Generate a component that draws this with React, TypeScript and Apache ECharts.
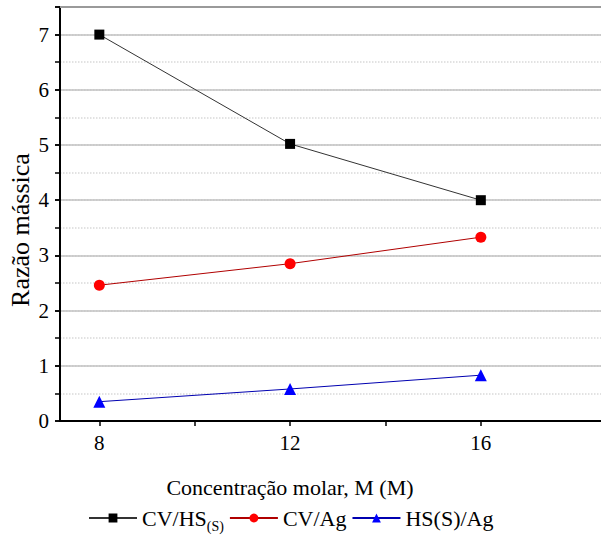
import React, { useEffect, useRef } from "react";
import * as echarts from "echarts";

const concentrations = [8, 12, 16];
const cvHs = [7.0, 5.02, 4.0];
const cvAg = [2.46, 2.85, 3.33];
const hsAg = [0.35, 0.58, 0.83];
const xLabelTicks = [8, 12, 16];
const xAllTicks = [8, 10, 12, 14, 16];
const seriesNames = ["CV/HS(S)", "CV/Ag", "HS(S)/Ag"];
const xTitle = "Concentração molar, M (M)";
const yTitle = "Razão mássica";

export default function App() {
  const ref = useRef<HTMLDivElement>(null);
  useEffect(() => {
    const chart = echarts.init(ref.current!, undefined, { renderer: "svg" });
    const font = "'Liberation Serif', 'Times New Roman', serif";
    const pair = (ys: number[]) => concentrations.map((x, i) => [x, ys[i]]);
    chart.setOption({
      animation: false,
      textStyle: { fontFamily: font },
      grid: { left: 60, top: 7, right: 0, bottom: 119 },
      xAxis: [
        {
          type: "value",
          min: 7.175,
          max: 18.52,
          axisLine: { onZero: false, lineStyle: { color: "#000", width: 2 } },
          axisTick: {
            show: true,
            customValues: xAllTicks,
            length: 5,
            lineStyle: { color: "#000", width: 1.5 },
          },
          axisLabel: {
            customValues: xLabelTicks,
            fontSize: 21,
            color: "#000",
            margin: 11,
            fontFamily: font,
          },
          splitLine: { show: false },
        },
        {
          type: "value",
          position: "top",
          min: 7.175,
          max: 18.52,
          axisLine: { show: true, onZero: false, lineStyle: { color: "#9a9a9a", width: 2 } },
          axisTick: { show: false },
          axisLabel: { show: false },
          splitLine: { show: false },
        },
      ],
      yAxis: [
        {
          type: "value",
          min: 0,
          max: 7.5,
          interval: 0.5,
          position: "left",
          axisLine: { show: false },
          axisTick: { show: true, length: 5, lineStyle: { color: "#000", width: 1.5 } },
          axisLabel: { show: false },
          splitLine: { show: true, lineStyle: { color: "#d9d9d9", type: "dotted", width: 1.5 } },
        },
        {
          type: "value",
          min: 0,
          max: 7.5,
          interval: 1,
          position: "left",
          axisLine: { show: true, onZero: false, lineStyle: { color: "#000", width: 2 } },
          axisTick: { show: true, length: 5, lineStyle: { color: "#000", width: 1.5 } },
          axisLabel: {
            fontSize: 21,
            color: "#000",
            margin: 11,
            fontFamily: font,
            formatter: (v: number) => (Number.isInteger(v) ? String(v) : ""),
          },
          splitLine: { show: true, lineStyle: { color: "#c2c2c2", width: 1.5 } },
        },
      ],
      legend: {
        left: 83,
        top: 502,
        itemWidth: 48,
        itemHeight: 11,
        itemGap: 5,
        data: seriesNames,
        formatter: (name: string) =>
          name === "CV/HS(S)" ? "{main|CV/HS}{sub|(S)}" : "{main|" + name + "}",
        textStyle: {
          color: "#000",
          fontFamily: font,
          fontSize: 22,
          rich: {
            main: { fontSize: 22, fontFamily: font, color: "#000" },
            sub: {
              fontSize: 14,
              fontFamily: font,
              color: "#000",
              verticalAlign: "bottom",
              padding: [16, 0, 0, 0],
            },
          },
        },
      },
      graphic: [
        {
          type: "text",
          x: 290,
          y: 487,
          style: {
            text: xTitle,
            textAlign: "center",
            textVerticalAlign: "middle",
            fontSize: 22,
            fontFamily: font,
            fill: "#000",
          },
        },
        {
          type: "text",
          x: 20,
          y: 230,
          rotation: Math.PI / 2,
          style: {
            text: yTitle,
            textAlign: "center",
            textVerticalAlign: "middle",
            fontSize: 26,
            fontFamily: font,
            fill: "#000",
          },
        },
      ],
      series: [
        {
          name: seriesNames[0],
          type: "line",
          yAxisIndex: 1,
          data: pair(cvHs),
          symbol: "rect",
          symbolSize: 10,
          itemStyle: { color: "#000" },
          lineStyle: { color: "#333", width: 1 },
        },
        {
          name: seriesNames[1],
          type: "line",
          yAxisIndex: 1,
          data: pair(cvAg),
          symbol: "circle",
          symbolSize: 11,
          itemStyle: { color: "#ff0000" },
          lineStyle: { color: "#b00000", width: 1 },
        },
        {
          name: seriesNames[2],
          type: "line",
          yAxisIndex: 1,
          data: pair(hsAg),
          symbol: "triangle",
          symbolSize: 12,
          itemStyle: { color: "#0000ff" },
          lineStyle: { color: "#0000b0", width: 1 },
        },
      ],
    });
    return () => chart.dispose();
  }, []);
  return (
    <div
      ref={ref}
      style={{ position: "fixed", left: 0, top: 0, width: 601, height: 540, background: "#fff" }}
    />
  );
}
